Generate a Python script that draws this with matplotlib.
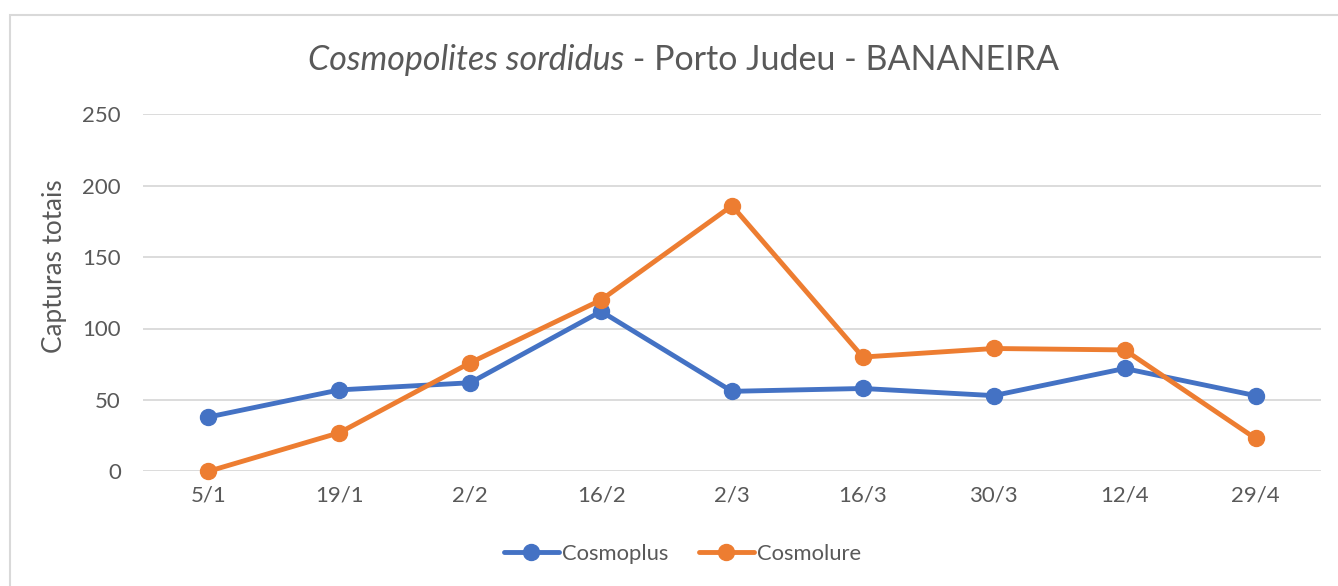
import matplotlib
matplotlib.use("Agg")
import matplotlib.pyplot as plt
from matplotlib.patches import Rectangle

dates = ["5/1", "19/1", "2/2", "16/2", "2/3", "16/3", "30/3", "12/4", "29/4"]
cosmoplus = [38, 57, 62, 112, 56, 58, 53, 72, 53]
cosmolure = [0, 27, 76, 120, 186, 80, 86, 85, 23]
yticks = [0, 50, 100, 150, 200, 250]

plt.rcParams['font.family'] = ['Lato', 'DejaVu Sans']
TXT = '#595959'
GRID = '#D9D9D9'

W, H = 1338, 586
fig = plt.figure(figsize=(W / 100, H / 100), dpi=100)
fig.patches.append(Rectangle((10 / W, -0.1), 1.2, 1 - 15 / H + 0.1, transform=fig.transFigure,
                             fill=False, edgecolor=GRID, linewidth=1.5))

ax = fig.add_axes([143 / W, (H - 471.3) / H, (1321 - 143) / W, (471.3 - 114.3) / H])
x = list(range(len(dates)))
ax.plot(x, cosmoplus, color='#4472C4', lw=3.5, marker='o', ms=11.5, label='Cosmoplus',
        solid_capstyle='round', zorder=3, clip_on=False)
ax.plot(x, cosmolure, color='#ED7D31', lw=3.5, marker='o', ms=11.5, label='Cosmolure',
        solid_capstyle='round', zorder=3, clip_on=False)

ax.set_xlim(-0.5, len(dates) - 0.5)
ax.set_ylim(0, 250)
ax.set_yticks(yticks)
ax.set_xticks(x)
ax.set_xticklabels(dates)
ax.grid(axis='y', color=GRID, lw=1.3)
ax.set_axisbelow(True)
for s in ax.spines.values():
    s.set_visible(False)
ax.tick_params(axis='both', length=0, colors=TXT, labelsize=16)
ax.tick_params(axis='y', pad=16)
ax.tick_params(axis='x', pad=10)
ax.set_ylabel('Capturas totais', fontsize=18.8, color=TXT)
ax.yaxis.set_label_coords(67 / W, (H - 266) / H, transform=fig.transFigure)

ty = 1 - 60 / H
t1 = fig.text(0, ty, 'Cosmopolites sordidus', style='italic', fontsize=24.5,
              color=TXT, ha='left', va='center')
t2 = fig.text(0, ty, ' - Porto Judeu - BANANEIRA', fontsize=24.5,
              color=TXT, ha='left', va='center')
r = fig.canvas.get_renderer()
w1 = t1.get_window_extent(r).width
w2 = t2.get_window_extent(r).width
x0 = 683.5 - (w1 + w2) / 2
t1.set_x(x0 / W)
t2.set_x((x0 + w1) / W)

leg = fig.legend(loc='center', bbox_to_anchor=(682.5 / W, 1 - 554 / H), ncol=2, frameon=False,
                 fontsize=15.8, labelcolor=TXT, handlelength=2.5, columnspacing=1.4,
                 handletextpad=0.15)

fig.savefig('out.png', dpi=100, facecolor='white')
